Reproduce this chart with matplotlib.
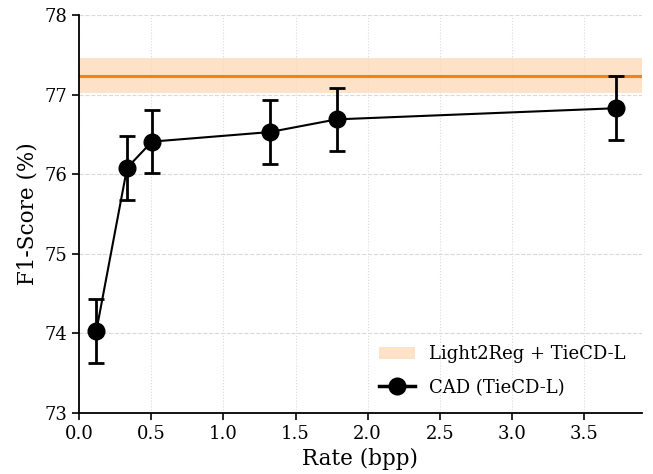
import matplotlib
matplotlib.use("Agg")
import matplotlib.pyplot as plt
from matplotlib.lines import Line2D
from matplotlib.patches import Patch
import numpy as np

# CAD (TieCD-L) points
rate = [0.12, 0.333, 0.505, 1.32, 1.785, 3.72]
f1 = [74.03, 76.08, 76.41, 76.53, 76.69, 76.83]
f1_err = [0.40, 0.40, 0.40, 0.40, 0.40, 0.40]

# Light2Reg + TieCD-L baseline
base_f1 = 77.24
base_err = 0.22

plt.rcParams['font.family'] = 'DejaVu Serif'

fig = plt.figure(figsize=(6.53, 4.74), dpi=100)
ax = fig.add_axes([0.121, 0.129, 0.862, 0.839])

band_color = '#fdd9b5'
ax.axhspan(base_f1 - base_err, base_f1 + base_err, color=band_color, alpha=0.75, lw=0)
ax.axhline(base_f1, color='#ff7f0e', lw=2.2)

ax.errorbar(rate, f1, yerr=f1_err, color='black', marker='o', markersize=12,
            lw=1.5, elinewidth=2, capsize=6, capthick=2)

ax.set_xlim(0, 3.9)
ax.set_ylim(73, 78)
ax.set_xticks(np.arange(0, 3.6, 0.5))
ax.set_yticks([73, 74, 75, 76, 77, 78])
ax.tick_params(labelsize=13, width=1.2, length=5)

ax.grid(axis='y', ls='--', color='#d9d9d9', lw=0.8)
ax.grid(axis='x', ls=':', color='#d9d9d9', lw=0.8)
ax.set_axisbelow(True)

for s in ['top', 'right']:
    ax.spines[s].set_visible(False)
for s in ['left', 'bottom']:
    ax.spines[s].set_linewidth(1.3)

ax.set_xlabel('Rate (bpp)', fontsize=15.5, labelpad=4)
ax.set_ylabel('F1-Score (%)', fontsize=15.5)

handles = [Patch(facecolor=band_color, alpha=0.75, lw=0),
           Line2D([], [], color='black', lw=2.5, marker='o', markersize=12)]
ax.legend(handles, ['Light2Reg + TieCD-L', 'CAD (TieCD-L)'], loc='lower right',
          frameon=False, fontsize=13, labelspacing=0.85, bbox_to_anchor=(1.0, 0.0))

fig.savefig('out.png', dpi=100)
